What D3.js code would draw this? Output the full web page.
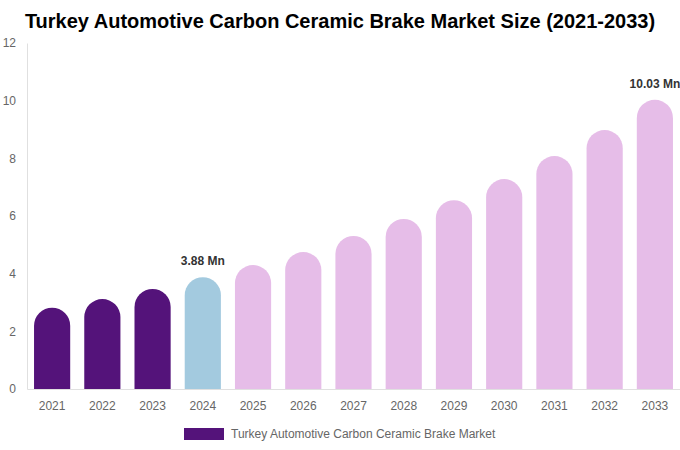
<html>
<head>
<script src="https://d3js.org/d3.v7.min.js"></script>
<style>
  body { margin: 0; background: #fff; }
  text { font-family: "Liberation Sans", Arial, sans-serif; }
</style>
</head>
<body>
<svg width="680" height="450" id="chart"></svg>
<script>
var years = ["2021","2022","2023","2024","2025","2026","2027","2028","2029","2030","2031","2032","2033"];
var values = [2.82, 3.12, 3.47, 3.88, 4.30, 4.75, 5.31, 5.90, 6.55, 7.28, 8.08, 8.98, 10.03];
var barColors = ["#54137a","#54137a","#54137a","#a3cadf","#e6bde8","#e6bde8","#e6bde8","#e6bde8","#e6bde8","#e6bde8","#e6bde8","#e6bde8","#e6bde8"];
var labelled = {"2024": "3.88 Mn", "2033": "10.03 Mn"};
var yTicks = [0, 2, 4, 6, 8, 10, 12];
var legendLabel = "Turkey Automotive Carbon Ceramic Brake Market";

var plotLeft = 27, plotRight = 680, plotTop = 43, plotBottom = 389;
var svg = d3.select("#chart");

var x = d3.scaleBand().domain(years).range([plotLeft, plotRight]).paddingInner(0.28).paddingOuter(0.14);
var y = d3.scaleLinear().domain([0, 12]).range([plotBottom, plotTop]);

svg.append("text")
  .attr("x", 340).attr("y", 28)
  .attr("text-anchor", "middle")
  .attr("font-size", 20).attr("font-weight", "bold").attr("fill", "#000")
  .text("Turkey Automotive Carbon Ceramic Brake Market Size (2021-2033)");

// y axis
var yAxis = svg.append("g").attr("transform", "translate(" + plotLeft + ",0)")
  .call(d3.axisLeft(y).tickValues(yTicks).tickSize(0).tickPadding(11));
yAxis.select(".domain").attr("stroke", "#e0e0e0");
yAxis.selectAll("text").attr("font-size", 12).attr("fill", "#666").style("font-family", "Liberation Sans, Arial, sans-serif");

// x axis
var xAxis = svg.append("g").attr("transform", "translate(0," + plotBottom + ")")
  .call(d3.axisBottom(x).tickSize(0).tickPadding(12));
xAxis.select(".domain").attr("stroke", "#e0e0e0");
xAxis.selectAll("text").attr("font-size", 12).attr("fill", "#666").style("font-family", "Liberation Sans, Arial, sans-serif");

function roundTop(x0, w, y0, y1) {
  var r = w / 2;
  var h = y1 - y0;
  if (h < r) r = h;
  return "M" + x0 + "," + y1 +
    "V" + (y0 + r) +
    "A" + r + "," + r + " 0 0 1 " + (x0 + w) + "," + (y0 + r) +
    "V" + y1 + "Z";
}

svg.append("g").selectAll("path")
  .data(years)
  .enter().append("path")
  .attr("d", function(d, i) { return roundTop(x(d), x.bandwidth(), y(values[i]), y(0)); })
  .attr("fill", function(d, i) { return barColors[i]; });

svg.append("g").selectAll("text")
  .data(years.filter(function(d) { return labelled[d]; }))
  .enter().append("text")
  .attr("x", function(d) { return x(d) + x.bandwidth() / 2; })
  .attr("y", function(d) { return y(values[years.indexOf(d)]) - 12; })
  .attr("text-anchor", "middle")
  .attr("font-size", 12).attr("font-weight", "bold").attr("fill", "#333")
  .text(function(d) { return labelled[d]; });

// legend
svg.append("rect").attr("x", 184).attr("y", 428).attr("width", 40).attr("height", 12).attr("fill", "#54137a");
svg.append("text").attr("x", 231).attr("y", 438)
  .attr("font-size", 12).attr("fill", "#666")
  .text(legendLabel);
</script>
</body>
</html>
